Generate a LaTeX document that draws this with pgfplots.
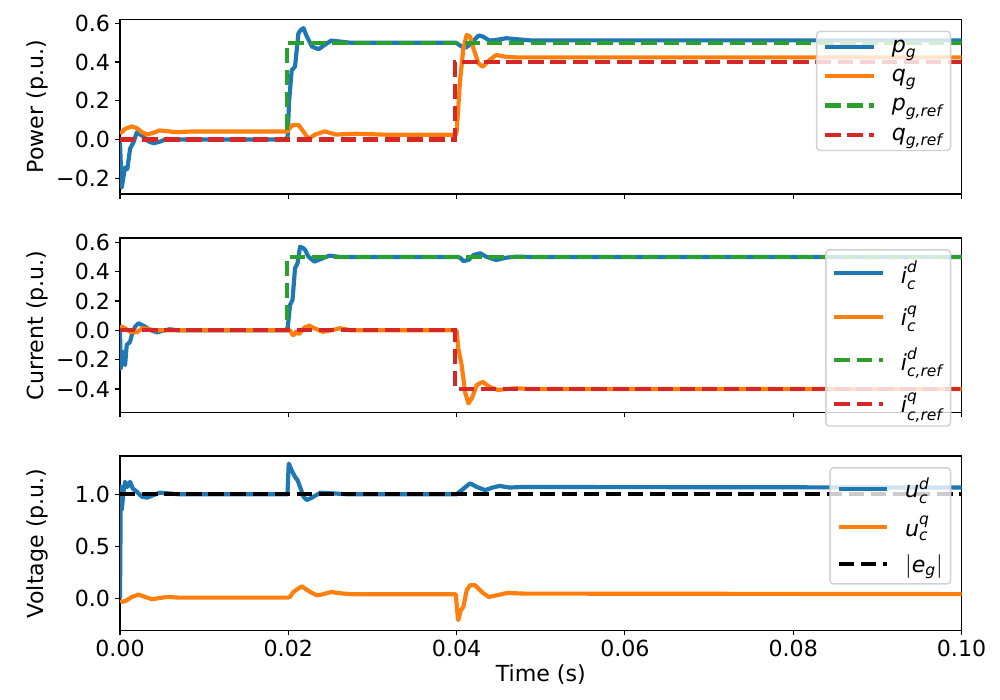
\documentclass[border=0pt]{standalone}
\usepackage{amsmath}
\usepackage{fontspec}
\setmainfont{DejaVu Sans}
\usepackage{pgfplots}
\pgfplotsset{compat=1.18}
\definecolor{tabblue}{HTML}{1F77B4}
\definecolor{taborange}{HTML}{FF7F0E}
\definecolor{tabgreen}{HTML}{2CA02C}
\definecolor{tabred}{HTML}{D62728}
\newcommand{\legtxt}[1]{\hspace*{11.4bp}#1\hspace*{1bp}}
\pgfplotsset{
 myaxis/.style={
  scale only axis, width=605.9bp, height=125.64bp,
  xmin=0, xmax=0.1, anchor=south west,
  xtick={0,0.02,0.04,0.06,0.08,0.1},
  scaled x ticks=false, scaled y ticks=false,
  tick align=outside, xtick pos=bottom, ytick pos=left,
  major tick length=3.5bp,
  tick style={line width=0.8bp, black},
  axis line style={line width=0.8bp},
  font=\fontsize{16}{19.2}\selectfont,
  tick label style={inner sep=3.5bp},
  ylabel style={at={(axis description cs:-0.0987,0.5)}, anchor=center},
  legend cell align=left,
  legend image code/.code={\draw[##1] (0bp,0bp) -- (35bp,0bp);},
  legend style={at={(1,1)}, anchor=north east, xshift=-7.4bp, yshift=-8bp, draw=black!18, line width=1bp, rounded corners=2.5bp, fill=white, fill opacity=0.8, text opacity=1, draw opacity=1, inner xsep=4.7bp, inner ysep=6bp, row sep=10.7bp, nodes={inner sep=0pt}},
 },
 solidl/.style={line width=3bp, line join=round},
 dashl/.style={line width=3bp, dash pattern=on 11.1bp off 4.8bp},
}
\begin{document}
\begin{tikzpicture}
\path[use as bounding box] (0bp,0bp) rectangle (720bp,-504bp);
% Panel 1
\begin{axis}[myaxis, at={(86.4bp,-139.68bp)},
  ymin=-0.281, ymax=0.6196,
  ytick={-0.2,0,0.2,0.4,0.6}, yticklabels={−0.2,0.0,0.2,0.4,0.6},
  xticklabels={}, ylabel={Power (p.u.)}]
\addplot[solidl, tabblue] coordinates {(0,-0.016) (0.0002,-0.248) (0.0006,-0.144) (0.00087,-0.152) (0.0012,-0.047) (0.0016,-0.014) (0.002,0.038) (0.0026,0.021) (0.0034,-0.01) (0.004,-0.019) (0.0048,-0.01) (0.0056,0.004) (0.0065,0) (0.0199,0) (0.0201,0.2) (0.0204,0.358) (0.0208,0.376) (0.0212,0.549) (0.0215,0.566) (0.0218,0.575) (0.0222,0.532) (0.0228,0.48) (0.0236,0.466) (0.0243,0.488) (0.0251,0.511) (0.0261,0.506) (0.0273,0.5) (0.0399,0.5) (0.0406,0.48) (0.0411,0.475) (0.0416,0.49) (0.0426,0.537) (0.0431,0.532) (0.0439,0.511) (0.0447,0.514) (0.0459,0.523) (0.0471,0.518) (0.0487,0.512) (0.1,0.512)};
\addlegendentry{\legtxt{$\textit{p}_{\textit{g}}$}}
\addplot[solidl, taborange] coordinates {(0,0.03) (0.0006,0.055) (0.0014,0.068) (0.002,0.059) (0.0026,0.038) (0.0032,0.026) (0.004,0.035) (0.0047,0.047) (0.0057,0.043) (0.0067,0.038) (0.0087,0.042) (0.0199,0.042) (0.0204,0.073) (0.0212,0.076) (0.0217,0.047) (0.0224,0.004) (0.0232,0.026) (0.0243,0.042) (0.0257,0.026) (0.028,0.03) (0.0317,0.025) (0.0399,0.025) (0.04,0.038) (0.0404,0.298) (0.0408,0.47) (0.0412,0.54) (0.0416,0.532) (0.042,0.47) (0.0426,0.393) (0.0431,0.376) (0.0439,0.41) (0.0447,0.436) (0.0459,0.427) (0.0471,0.424) (0.05,0.424) (0.1,0.424)};
\addlegendentry{\legtxt{$\textit{q}_{\textit{g}}$}}
\addplot[dashl, tabgreen] coordinates {(0,0) (0.0198,0) (0.0198,0.5) (0.1,0.5)};
\addlegendentry{\legtxt{$\textit{p}_{\textit{g,ref}}$}}
\addplot[dashl, tabred] coordinates {(0,0) (0.0398,0) (0.0398,0.4) (0.1,0.4)};
\addlegendentry{\legtxt{$\textit{q}_{\textit{g,ref}}$}}
\end{axis}
% Panel 2
\begin{axis}[myaxis, at={(86.4bp,-297bp)},
  ymin=-0.560, ymax=0.629,
  ytick={-0.4,-0.2,0,0.2,0.4,0.6}, yticklabels={−0.4,−0.2,0.0,0.2,0.4,0.6},
  xticklabels={}, ylabel={Current (p.u.)},
  legend style={row sep=14.5bp, inner ysep=8bp}]
\addplot[solidl, tabblue] coordinates {(0,-0.01) (0.0001,-0.26) (0.0004,-0.146) (0.0006,-0.237) (0.0008,-0.1) (0.0012,-0.078) (0.0014,-0.032) (0.0018,0.025) (0.0022,0.048) (0.0028,0.031) (0.0036,0.002) (0.0044,-0.014) (0.0051,-0.003) (0.0059,0.007) (0.0069,0) (0.0199,0) (0.0202,0.172) (0.0205,0.207) (0.0208,0.423) (0.0211,0.457) (0.0214,0.57) (0.0218,0.559) (0.022,0.547) (0.0224,0.502) (0.0231,0.468) (0.0241,0.491) (0.0249,0.509) (0.0261,0.5) (0.04,0.5) (0.0404,0.495) (0.0408,0.472) (0.0414,0.479) (0.042,0.513) (0.0428,0.525) (0.0435,0.502) (0.0447,0.479) (0.0459,0.495) (0.0471,0.502) (0.0487,0.5) (0.1,0.5)};
\addlegendentry{\legtxt{$\textit{i}^{\textit{d}}_{\textit{c}}$}}
\addplot[solidl, taborange] coordinates {(0,0.03) (0.0006,0.014) (0.0012,-0.01) (0.002,-0.014) (0.0026,0.014) (0.0034,0.009) (0.004,0) (0.0199,0) (0.0202,0) (0.0205,-0.032) (0.0207,-0.03) (0.0209,-0.01) (0.0213,-0.025) (0.0219,0.018) (0.0225,0.032) (0.0231,0.014) (0.0241,-0.01) (0.0253,0.002) (0.0261,0.014) (0.0275,0) (0.04,0) (0.0402,-0.123) (0.0406,-0.237) (0.041,-0.419) (0.0414,-0.498) (0.0418,-0.464) (0.0424,-0.373) (0.0431,-0.351) (0.0439,-0.385) (0.0449,-0.407) (0.0459,-0.4) (0.0471,-0.395) (0.0487,-0.4) (0.1,-0.4)};
\addlegendentry{\legtxt{$\textit{i}^{\textit{q}}_{\textit{c}}$}}
\addplot[dashl, tabgreen] coordinates {(0,0) (0.0198,0) (0.0198,0.5) (0.1,0.5)};
\addlegendentry{\legtxt{$\textit{i}^{\textit{d}}_{\textit{c,ref}}$}}
\addplot[dashl, tabred] coordinates {(0,0) (0.0398,0) (0.0398,-0.4) (0.1,-0.4)};
\addlegendentry{\legtxt{$\textit{i}^{\textit{q}}_{\textit{c,ref}}$}}
\end{axis}
% Panel 3
\begin{axis}[myaxis, at={(86.4bp,-453.96bp)},
  ymin=-0.31, ymax=1.368,
  ytick={0,0.5,1}, yticklabels={0.0,0.5,1.0},
  xticklabels={0.00,0.02,0.04,0.06,0.08,0.10},
  ylabel={Voltage (p.u.)}, xlabel={Time (s)},
  xlabel style={at={(axis description cs:0.5,0)}, anchor=center, yshift=-31.5bp},
  legend style={row sep=11.5bp, inner ysep=7bp}]
\addplot[solidl, tabblue] coordinates {(0,0) (0.0001,1.073) (0.0002,0.849) (0.0004,1.01) (0.0006,1.12) (0.00087,1.07) (0.0012,1.12) (0.0015,1.057) (0.002,1.025) (0.0026,0.977) (0.0032,0.967) (0.004,0.993) (0.0047,1.015) (0.0055,1.01) (0.007,1.0) (0.0199,1.0) (0.02005,1.295) (0.0204,1.23) (0.0208,1.167) (0.0211,1.135) (0.0214,1.07) (0.0218,0.977) (0.0222,0.945) (0.0228,0.967) (0.0238,1.015) (0.025,1.01) (0.027,1.0) (0.04,1.0) (0.0406,1.04) (0.0416,1.105) (0.0424,1.07) (0.0434,1.04) (0.0443,1.065) (0.0451,1.08) (0.0463,1.065) (0.0479,1.07) (0.1,1.065)};
\addlegendentry{\legtxt{$\textit{u}^{\textit{d}}_{\textit{c}}$}}
\addplot[solidl, taborange] coordinates {(0,-0.02) (0.0003,-0.035) (0.0008,-0.02) (0.0014,0.013) (0.0022,0.035) (0.003,0.013) (0.0038,-0.01) (0.0047,0.003) (0.0057,0.013) (0.007,0.006) (0.0199,0.006) (0.0202,0.013) (0.0206,0.06) (0.021,0.083) (0.0216,0.115) (0.022,0.093) (0.0226,0.06) (0.0234,0.029) (0.0241,0.038) (0.0251,0.06) (0.0265,0.045) (0.028,0.038) (0.0399,0.038) (0.0401,-0.147) (0.0402,-0.21) (0.0405,-0.115) (0.0408,-0.083) (0.0412,0.077) (0.0416,0.125) (0.0422,0.125) (0.043,0.06) (0.0438,0.013) (0.0448,0.029) (0.046,0.051) (0.048,0.045) (0.1,0.04)};
\addlegendentry{\legtxt{$\textit{u}^{\textit{q}}_{\textit{c}}$}}
\addplot[dashl, black] coordinates {(0,1) (0.1,1)};
\addlegendentry{\legtxt{$|\textit{e}_{\textit{g}}|$}}
\end{axis}
\end{tikzpicture}
\end{document}
